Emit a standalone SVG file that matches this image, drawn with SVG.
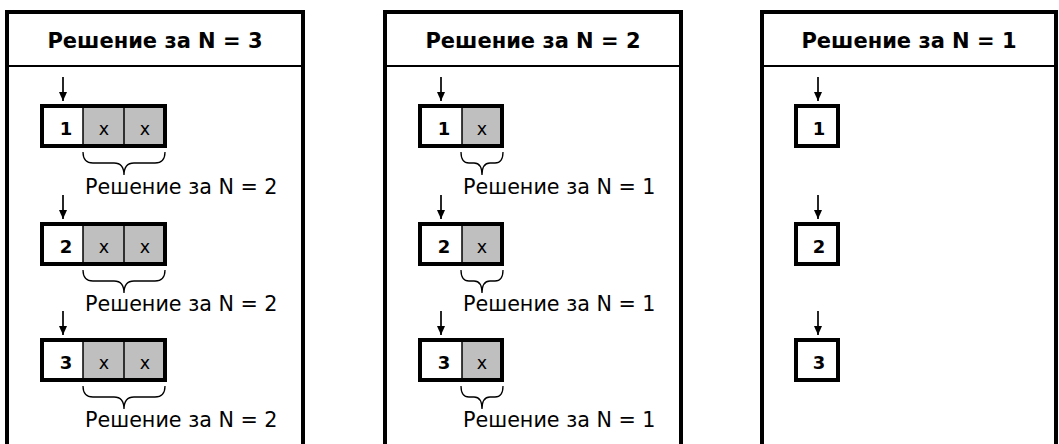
<svg xmlns="http://www.w3.org/2000/svg" width="1059" height="444" viewBox="0 0 1059 444">
<style>
.panel{fill:#fff;stroke:#000;stroke-width:4}
.sep{stroke:#000;stroke-width:2}
.title{font-family:"DejaVu Sans",Verdana,sans-serif;font-weight:bold;font-size:21px;text-anchor:middle;fill:#000}
.box{fill:none;stroke:#000;stroke-width:4}
.w{fill:#fff}
.g{fill:#bfbfbf}
.div{stroke:#000;stroke-width:1.5}
.num{font-family:"DejaVu Sans",Verdana,sans-serif;font-weight:bold;font-size:18px;text-anchor:middle;fill:#000}
.x{font-family:"DejaVu Sans",Verdana,sans-serif;font-size:17.5px;text-anchor:middle;fill:#000}
.lbl{font-family:"DejaVu Sans",Verdana,sans-serif;font-size:20.7px;fill:#000}
.brace{fill:none;stroke:#000;stroke-width:1.3}
.arr{stroke:#000;stroke-width:1.7}
</style>
<defs>
<marker id="ah" markerWidth="9" markerHeight="8" refX="9" refY="4" orient="auto" markerUnits="userSpaceOnUse" viewBox="0 0 9 8">
<path d="M0,0 L9,4 L0,8 Z" fill="#000"/>
</marker>
</defs>

<g id="panel1">
<rect class="panel" x="7" y="12" width="296" height="440"/>
<line class="sep" x1="7" y1="66" x2="303" y2="66"/>
<text class="title" x="155" y="48">Решение за N = 3</text>
</g>
<g id="panel2">
<rect class="panel" x="385" y="12" width="296" height="440"/>
<line class="sep" x1="385" y1="66" x2="681" y2="66"/>
<text class="title" x="533" y="48">Решение за N = 2</text>
</g>
<g id="panel3">
<rect class="panel" x="762" y="12" width="294" height="440"/>
<line class="sep" x1="762" y1="66" x2="1056" y2="66"/>
<text class="title" x="909" y="48">Решение за N = 1</text>
</g>

<!-- Panel 1 rows -->
<g id="p1-row1">
<rect class="w" x="42" y="106" width="41" height="40"/>
<rect class="g" x="83" y="106" width="82" height="40"/>
<line class="div" x1="83" y1="106" x2="83" y2="146"/>
<line class="div" x1="124" y1="106" x2="124" y2="146"/>
<rect class="box" x="42" y="106" width="123" height="40"/>
<text class="num" x="66" y="135">1</text>
<text class="x" x="104" y="135">x</text>
<text class="x" x="145" y="135">x</text>
<path class="brace" d="M83,152 Q83,163 93,163 L114,163 Q124,163 124,175 Q124,163 134,163 L155,163 Q165,163 165,152"/>
<text class="lbl" x="85" y="194">Решение за N = 2</text>
</g>
<g id="p1-row2">
<rect class="w" x="42" y="224" width="41" height="40"/>
<rect class="g" x="83" y="224" width="82" height="40"/>
<line class="div" x1="83" y1="224" x2="83" y2="264"/>
<line class="div" x1="124" y1="224" x2="124" y2="264"/>
<rect class="box" x="42" y="224" width="123" height="40"/>
<text class="num" x="66" y="253">2</text>
<text class="x" x="104" y="253">x</text>
<text class="x" x="145" y="253">x</text>
<path class="brace" d="M83,270 Q83,281 93,281 L114,281 Q124,281 124,293 Q124,281 134,281 L155,281 Q165,281 165,270"/>
<text class="lbl" x="85" y="311">Решение за N = 2</text>
</g>
<g id="p1-row3">
<rect class="w" x="42" y="340" width="41" height="40"/>
<rect class="g" x="83" y="340" width="82" height="40"/>
<line class="div" x1="83" y1="340" x2="83" y2="380"/>
<line class="div" x1="124" y1="340" x2="124" y2="380"/>
<rect class="box" x="42" y="340" width="123" height="40"/>
<text class="num" x="66" y="369">3</text>
<text class="x" x="104" y="369">x</text>
<text class="x" x="145" y="369">x</text>
<path class="brace" d="M83,386 Q83,397 93,397 L114,397 Q124,397 124,409 Q124,397 134,397 L155,397 Q165,397 165,386"/>
<text class="lbl" x="85" y="427">Решение за N = 2</text>
</g>

<!-- Panel 2 rows -->
<g id="p2-row1">
<rect class="w" x="420" y="106" width="42" height="40"/>
<rect class="g" x="462" y="106" width="40" height="40"/>
<line class="div" x1="462" y1="106" x2="462" y2="146"/>
<rect class="box" x="420" y="106" width="82" height="40"/>
<text class="num" x="444" y="135">1</text>
<text class="x" x="482" y="135">x</text>
<path class="brace" d="M461,152 Q461,163 469,163 L474,163 Q482,163 482,175 Q482,163 490,163 L495,163 Q503,163 503,152"/>
<text class="lbl" x="463" y="194">Решение за N = 1</text>
</g>
<g id="p2-row2">
<rect class="w" x="420" y="224" width="42" height="40"/>
<rect class="g" x="462" y="224" width="40" height="40"/>
<line class="div" x1="462" y1="224" x2="462" y2="264"/>
<rect class="box" x="420" y="224" width="82" height="40"/>
<text class="num" x="444" y="253">2</text>
<text class="x" x="482" y="253">x</text>
<path class="brace" d="M461,270 Q461,281 469,281 L474,281 Q482,281 482,293 Q482,281 490,281 L495,281 Q503,281 503,270"/>
<text class="lbl" x="463" y="311">Решение за N = 1</text>
</g>
<g id="p2-row3">
<rect class="w" x="420" y="340" width="42" height="40"/>
<rect class="g" x="462" y="340" width="40" height="40"/>
<line class="div" x1="462" y1="340" x2="462" y2="380"/>
<rect class="box" x="420" y="340" width="82" height="40"/>
<text class="num" x="444" y="369">3</text>
<text class="x" x="482" y="369">x</text>
<path class="brace" d="M461,386 Q461,397 469,397 L474,397 Q482,397 482,409 Q482,397 490,397 L495,397 Q503,397 503,386"/>
<text class="lbl" x="463" y="427">Решение за N = 1</text>
</g>

<!-- Panel 3 rows -->
<g id="p3-row1">
<rect class="w" x="796" y="106" width="42" height="40"/>
<rect class="box" x="796" y="106" width="42" height="40"/>
<text class="num" x="819" y="135">1</text>
</g>
<g id="p3-row2">
<rect class="w" x="796" y="224" width="42" height="40"/>
<rect class="box" x="796" y="224" width="42" height="40"/>
<text class="num" x="819" y="253">2</text>
</g>
<g id="p3-row3">
<rect class="w" x="796" y="340" width="42" height="40"/>
<rect class="box" x="796" y="340" width="42" height="40"/>
<text class="num" x="819" y="369">3</text>
</g>

<g id="connectors">
<line class="arr" x1="63" y1="77" x2="63" y2="101" marker-end="url(#ah)"/>
<line class="arr" x1="63" y1="195" x2="63" y2="219" marker-end="url(#ah)"/>
<line class="arr" x1="63" y1="311" x2="63" y2="335" marker-end="url(#ah)"/>
<line class="arr" x1="441" y1="77" x2="441" y2="101" marker-end="url(#ah)"/>
<line class="arr" x1="441" y1="195" x2="441" y2="219" marker-end="url(#ah)"/>
<line class="arr" x1="441" y1="311" x2="441" y2="335" marker-end="url(#ah)"/>
<line class="arr" x1="818" y1="77" x2="818" y2="101" marker-end="url(#ah)"/>
<line class="arr" x1="818" y1="195" x2="818" y2="219" marker-end="url(#ah)"/>
<line class="arr" x1="818" y1="311" x2="818" y2="335" marker-end="url(#ah)"/>
</g>
</svg>
